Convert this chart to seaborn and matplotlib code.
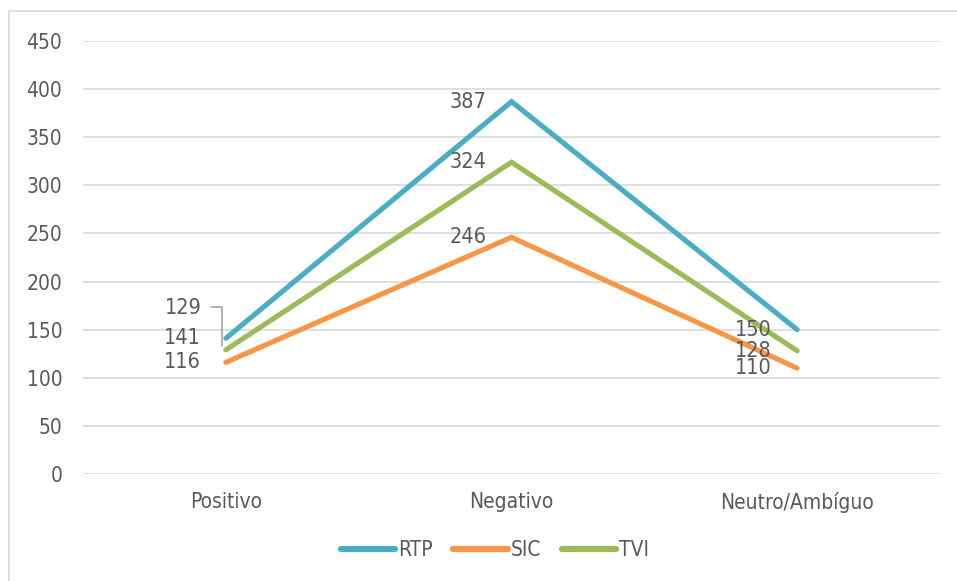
import matplotlib
matplotlib.use("Agg")
import matplotlib.pyplot as plt
from matplotlib.lines import Line2D
import seaborn as sns
import pandas as pd

categories = ["Positivo", "Negativo", "Neutro/Ambíguo"]
rtp = [141, 387, 150]
sic = [116, 246, 110]
tvi = [129, 324, 128]
channels = ["RTP", "SIC", "TVI"]
y_ticks = [0, 50, 100, 150, 200, 250, 300, 350, 400, 450]

colors = {"RTP": "#4BACC6", "SIC": "#F79646", "TVI": "#9BBB59"}
text_color = "#595959"

df = pd.DataFrame({
    "Categoria": categories * 3,
    "Canal": [c for c in channels for _ in categories],
    "Valor": rtp + sic + tvi,
    "x": list(range(len(categories))) * 3,
})

sns.set_theme(style="white")
plt.rcParams["font.family"] = ["DejaVu Sans"]
plt.rcParams["font.stretch"] = "condensed"

fig = plt.figure(figsize=(9.57, 5.81), dpi=100)
ax = fig.add_axes([83 / 957, 1 - 474 / 581, (940 - 83) / 957, (474 - 41) / 581])

sns.lineplot(data=df, x="x", y="Valor", hue="Canal", palette=colors,
             linewidth=3.7, ax=ax, legend=False, sort=False)
for ln in ax.get_lines():
    ln.set_solid_capstyle("round")
    ln.set_solid_joinstyle("miter")

ax.set_xlim(-0.5, 2.5)
ax.set_ylim(0, 450)
ax.set_yticks(y_ticks)
ax.set_yticklabels([str(v) for v in y_ticks])
ax.set_xticks(range(len(categories)))
ax.set_xticklabels(categories)
ax.set_xlabel("")
ax.set_ylabel("")
ax.grid(axis="y", color="#D9D9D9", linewidth=1.2)
ax.set_axisbelow(True)
for s in ax.spines.values():
    s.set_visible(False)
ax.tick_params(axis="both", length=0, labelsize=15, labelcolor=text_color)
ax.tick_params(axis="y", pad=15)
ax.tick_params(axis="x", pad=13)

# Data labels, placed to the left of each point
label_kw = dict(fontsize=15.5, color=text_color, va="center", ha="right")
series = {"RTP": rtp, "SIC": sic, "TVI": tvi}
for name, vals in series.items():
    for i, v in enumerate(vals):
        if i == 0 and name == "TVI":
            # moved up with a leader line back to its point
            ax.annotate(str(v), xy=(i, v), xytext=(-17, 30), textcoords="offset points",
                        **label_kw)
            continue
        ax.annotate(str(v), xy=(i, v), xytext=(-18, 0), textcoords="offset points",
                    **label_kw)

# leader line for the TVI label at Positivo
lx0 = 211 / 957
lx1 = 222 / 957
ly0 = 1 - 307 / 581
x_pt, y_pt = ax.transData.transform((0, tvi[0]))
inv = fig.transFigure.inverted()
px, py = inv.transform((x_pt - 2, y_pt + 4))
fig.add_artist(Line2D([lx0, lx1, lx1], [ly0, ly0, py], color="#A6A6A6", linewidth=1.2))

# legend
handles = [Line2D([0], [0], color=colors[c], linewidth=4.5, solid_capstyle="round") for c in channels]
leg = fig.legend(handles, channels, loc="center", bbox_to_anchor=(495 / 957, 1 - 550 / 581),
                 ncol=3, frameon=False, fontsize=15, handlelength=2.6,
                 handletextpad=0.15, columnspacing=1.0)
for t in leg.get_texts():
    t.set_color(text_color)

# chart border
fig.add_artist(Line2D([9 / 957, 1], [1 - 11 / 581, 1 - 11 / 581], color="#D9D9D9", linewidth=1.2))
fig.add_artist(Line2D([9 / 957, 9 / 957], [0, 1 - 11 / 581], color="#D9D9D9", linewidth=1.2))

fig.savefig("out.png", dpi=100, facecolor="white")
